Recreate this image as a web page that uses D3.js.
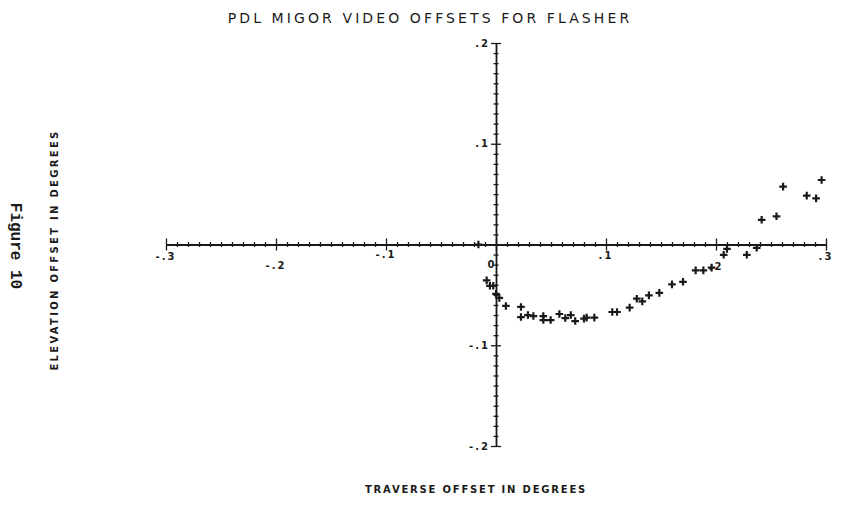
<!DOCTYPE html>
<html><head><meta charset="utf-8">
<script src="https://cdn.jsdelivr.net/npm/d3@7"></script>
<style>
body{margin:0;background:#fff;}
svg{display:block;}
text{font-family:"DejaVu Sans",sans-serif;fill:#1a1a1a;}
</style></head><body>
<svg id="c" width="851" height="510"></svg>
<script>
const title = "PDL MIGOR VIDEO OFFSETS FOR FLASHER";
const xTitle = "TRAVERSE OFFSET IN DEGREES";
const yTitle = "ELEVATION OFFSET IN DEGREES";
const figLabel = "Figure 10";
const xTickValues = [-0.3,-0.2,-0.1,0,0.1,0.2,0.3];
const xTickLabels = ["-.3","-.2","-.1","0",".1",".2",".3"];
const yTickValues = [0.2,0.1,-0.1,-0.2];
const yTickLabels = [".2",".1","-.1","-.2"];
const traverse = [-0.016,-0.0085,-0.0055,-0.0025,0.000,0.003,0.009,0.0227,0.0227,0.029,0.034,0.043,0.043,0.0497,0.0576,0.063,0.068,0.072,0.080,0.0824,0.0894,0.1057,0.110,0.1215,0.128,0.133,0.139,0.1485,0.160,0.170,0.1815,0.1885,0.196,0.207,0.210,0.228,0.237,0.2415,0.255,0.261,0.2825,0.291,0.296];
const elevation = [0.000,-0.0356,-0.041,-0.041,-0.049,-0.053,-0.061,-0.062,-0.072,-0.070,-0.071,-0.071,-0.075,-0.075,-0.069,-0.073,-0.070,-0.076,-0.0736,-0.0726,-0.0726,-0.067,-0.067,-0.0627,-0.0538,-0.0565,-0.0505,-0.048,-0.0396,-0.037,-0.0257,-0.0257,-0.023,-0.0102,-0.0043,-0.0102,-0.0033,0.0245,0.028,0.0574,0.0485,0.0458,0.064];

const svg = d3.select("#c");
const x = d3.scaleLinear().domain([-0.3,0.3]).range([166,826]);
const y = d3.scaleLinear().domain([-0.2,0.2]).range([446,43]);
const ink = "#1a1a1a";

// title
svg.append("text").attr("x",430).attr("y",23).attr("text-anchor","middle")
  .attr("font-size",14).attr("font-weight",500).attr("letter-spacing",3.1).text(title);
svg.append("text").attr("x",476).attr("y",493).attr("text-anchor","middle")
  .attr("font-size",10).attr("font-weight","bold").attr("letter-spacing",1.8).text(xTitle);
svg.append("text").attr("transform","translate(58,250) rotate(-90)").attr("text-anchor","middle")
  .attr("font-size",10).attr("font-weight","bold").attr("letter-spacing",2.3).text(yTitle);
svg.append("text").attr("transform","translate(11,246) rotate(90)").attr("text-anchor","middle")
  .attr("font-size",16).attr("font-weight","bold")
  .style("font-family","'Liberation Mono','DejaVu Sans Mono',monospace").text(figLabel);

// minor tick values every 0.01
const xMinor = d3.range(-30,31).map(i=>i/100);
const yMinor = d3.range(-20,21).map(i=>i/100);

// x axis through y=0
const gx = svg.append("g").attr("transform",`translate(0,${y(0)})`)
  .call(d3.axisBottom(x).tickValues(xMinor).tickSize(0).tickFormat(""));
gx.select(".domain").attr("stroke",ink).attr("stroke-width",1.8);
gx.selectAll(".tick line").attr("stroke",ink).attr("stroke-width",1.3)
  .attr("y1",d=>Math.abs(Math.round(d*100))%10===0?-6:-2.5)
  .attr("y2",d=>Math.abs(Math.round(d*100))%10===0?6:2.5);

// y axis through x=0
const gy = svg.append("g").attr("transform",`translate(${x(0)},0)`)
  .call(d3.axisLeft(y).tickValues(yMinor).tickSize(0).tickFormat(""));
gy.select(".domain").attr("stroke",ink).attr("stroke-width",1.8);
gy.selectAll(".tick line").attr("stroke",ink).attr("stroke-width",1.3)
  .attr("x1",d=>Math.abs(Math.round(d*100))%10===0?-5:-2.5)
  .attr("x2",d=>Math.abs(Math.round(d*100))%10===0?5:2.5);

// x tick labels (plotter alternates heights)
const xLabOff = [15,24,13,23,14,25,15];
svg.append("g").selectAll("text").data(xTickValues).join("text")
  .attr("x",(d,i)=>x(d)+(d===0?-4:0)).attr("y",(d,i)=>y(0)+xLabOff[i])
  .attr("text-anchor","middle").attr("font-size",10).attr("font-weight","bold")
  .attr("letter-spacing",2).text((d,i)=>xTickLabels[i]);

// y tick labels
svg.append("g").selectAll("text").data(yTickValues).join("text")
  .attr("x",x(0)-6).attr("y",d=>y(d)+3.5)
  .attr("text-anchor","end").attr("font-size",10).attr("font-weight","bold")
  .attr("letter-spacing",2).text((d,i)=>yTickLabels[i]);

// data points as plus markers
const pts = traverse.map((t,i)=>[t,elevation[i]]);
svg.append("g").selectAll("path").data(pts).join("path")
  .attr("d",d=>{const cx=x(d[0]),cy=y(d[1]),r=3.8;return `M${cx-r},${cy}H${cx+r}M${cx},${cy-r}V${cy+r}`;})
  .attr("stroke",ink).attr("stroke-width",2.2).attr("fill","none");
</script>
</body></html>
